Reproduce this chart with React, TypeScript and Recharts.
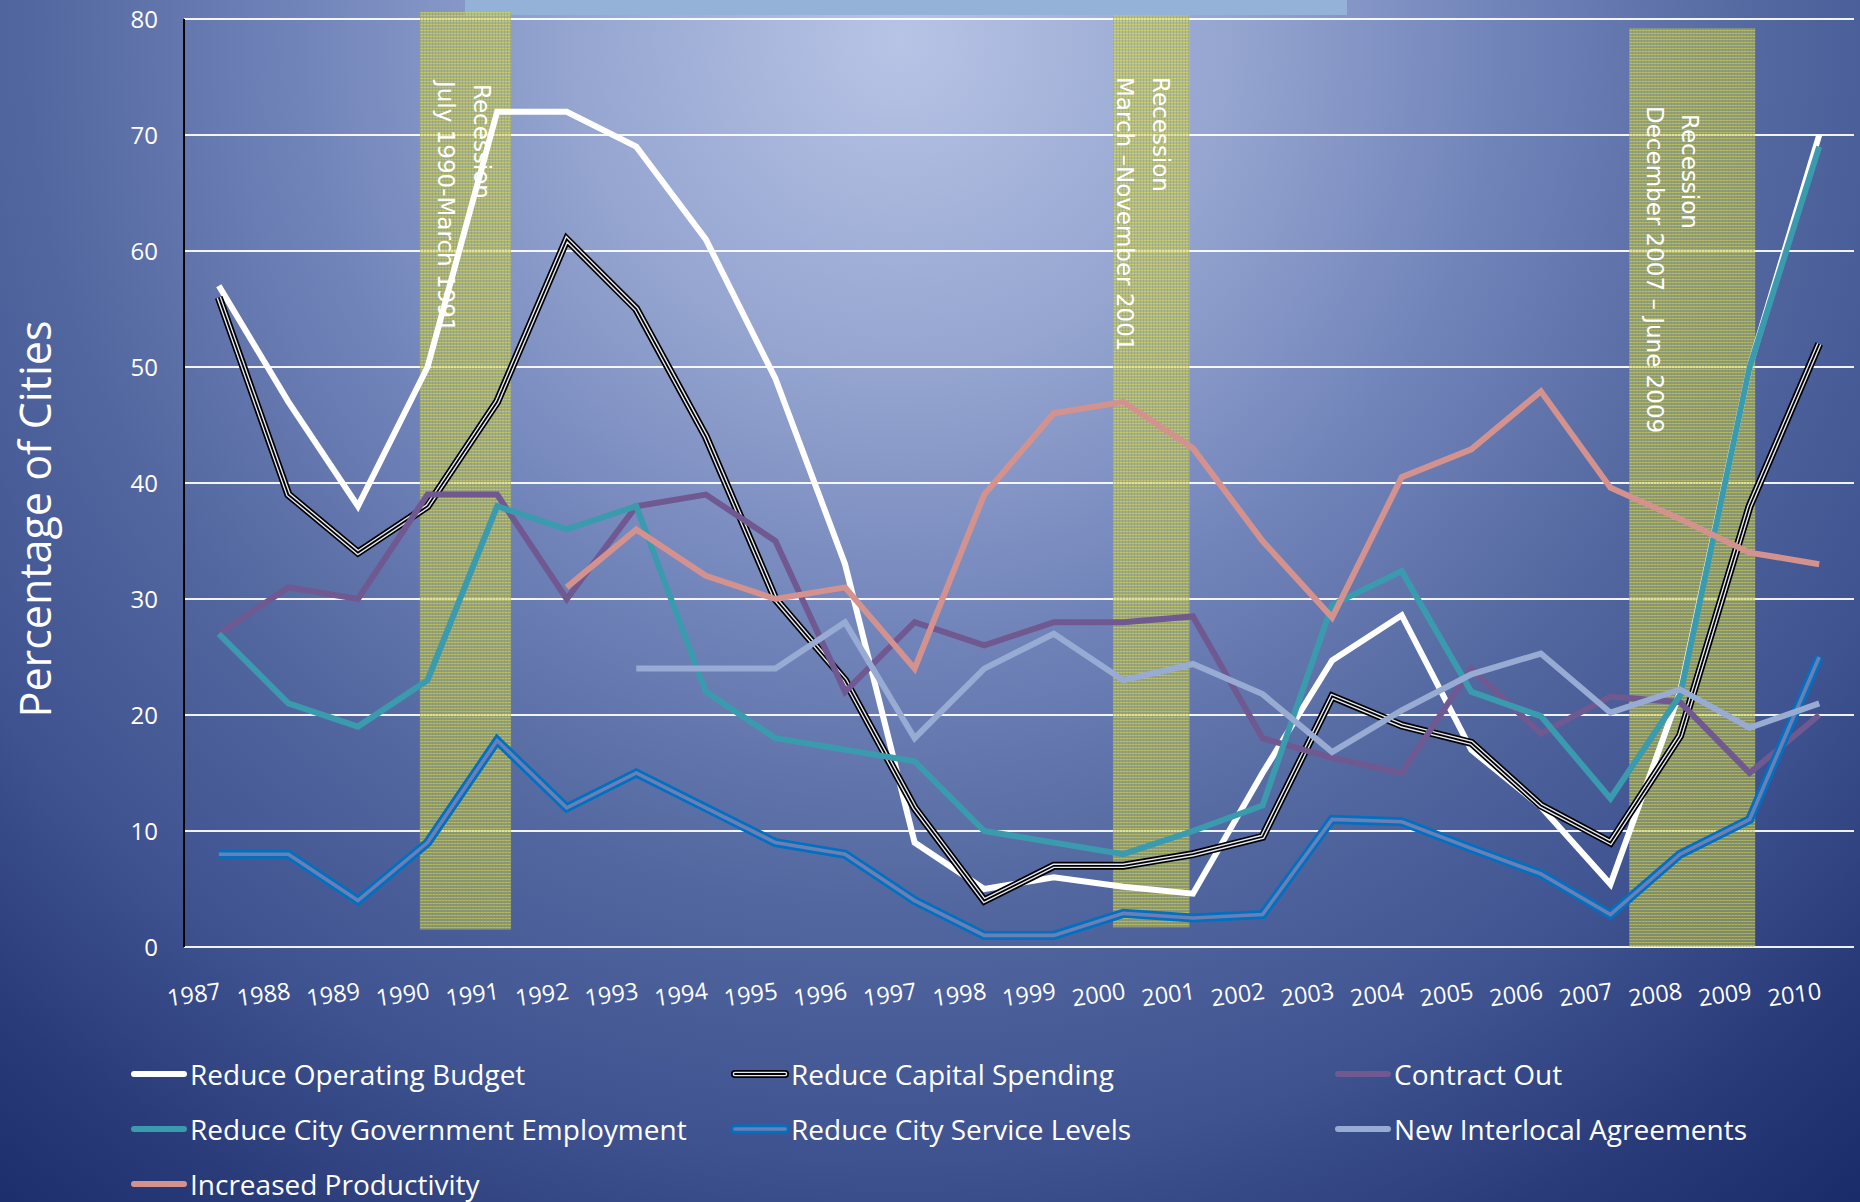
import React from 'react';
import { LineChart, Line, XAxis, YAxis, CartesianGrid, ReferenceArea } from 'recharts';

// survey years on the x axis
const years = [
  1987, 1988, 1989, 1990, 1991, 1992, 1993, 1994, 1995, 1996, 1997, 1998,
  1999, 2000, 2001, 2002, 2003, 2004, 2005, 2006, 2007, 2008, 2009, 2010,
];

const yTicks = [0, 10, 20, 30, 40, 50, 60, 70, 80];

// percentage of cities taking each action, one value per year
const operatingBudget = [57, 47, 38, 50, 72, 72, 69, 61, 49, 33, 9, 5, 6, 5.2, 4.6, 15, 24.7, 28.6, 17, 12.1, 5.4, 22, 50, 70];
const capitalSpending = [56, 39, 34, 38, 47, 61, 55, 44, 30, 23, 12, 4, 7, 7, 8, 9.5, 21.6, 19.1, 17.6, 12.2, 9, 18.2, 38, 52];
const contractOut = [27, 31, 30, 39, 39, 30, 38, 39, 35, 22, 28, 26, 28, 28, 28.5, 18, 16.3, 15, 24, 18.4, 21.6, 21.1, 15, 20];
const govEmployment = [27, 21, 19, 23, 38, 36, 38, 22, 18, 17, 16, 10, 9, 8, 10, 12.2, 29.5, 32.4, 22, 19.9, 12.8, 21.7, 50, 69];
const serviceLevels = [8, 8, 4, 9, 17.8, 12, 15, 12, 9, 8, 4, 1, 1, 2.9, 2.5, 2.8, 11, 10.8, 8.5, 6.3, 2.8, 8, 11, 25];
const interlocal = [null, null, null, null, null, null, 24, 24, 24, 28, 18, 24, 27, 23, 24.4, 21.8, 16.8, 20.4, 23.5, 25.3, 20.2, 22.2, 18.9, 21];
const productivity = [null, null, null, null, null, 31, 36, 32, 30, 31, 24, 39, 46, 47, 43, 35, 28.4, 40.5, 42.9, 47.9, 39.6, 36.9, 34, 33];

// recession periods (fractional years along the axis)
const recessions = [
  { from: 1989.89, to: 1991.2, title: 'Recession', period: 'July 1990-March 1991' },
  { from: 1999.85, to: 2000.95, title: 'Recession', period: 'March \u2013November 2001' },
  { from: 2007.27, to: 2009.08, title: 'Recession', period: 'December 2007 \u2013 June 2009' },
];

const data = years.map((year, i) => ({
  year,
  operating: operatingBudget[i],
  capital: capitalSpending[i],
  contract: contractOut[i],
  employment: govEmployment[i],
  service: serviceLevels[i],
  interlocal: interlocal[i],
  productivity: productivity[i],
}));

// stroke layers per series; stacked strokes give the compound line look
const series = [
  { key: 'operating', name: 'Reduce Operating Budget', layers: [{ stroke: '#ffffff', w: 6 }] },
  {
    key: 'capital',
    name: 'Reduce Capital Spending',
    layers: [
      { stroke: '#000000', w: 8 },
      { stroke: '#e6e9f3', w: 4.6 },
      { stroke: '#000000', w: 1.8 },
    ],
  },
  { key: 'contract', name: 'Contract Out', layers: [{ stroke: '#705890', w: 6 }] },
  { key: 'employment', name: 'Reduce City Government Employment', layers: [{ stroke: '#3a9bae', w: 6 }] },
  {
    key: 'service',
    name: 'Reduce City Service Levels',
    layers: [
      { stroke: '#0070c0', w: 9 },
      { stroke: '#6a7fb6', w: 3.6 },
    ],
  },
  { key: 'interlocal', name: 'New Interlocal Agreements', layers: [{ stroke: '#98abd3', w: 6 }] },
  { key: 'productivity', name: 'Increased Productivity', layers: [{ stroke: '#d4928f', w: 6 }] },
];

const W = 1860;
const H = 1202;
const FONT = '"Open Sans", "Noto Sans", sans-serif';

// vertical extent and text placement of each shaded recession band
const bandSpans = [
  { y1: 1.5, y2: 80.6, titleDx: 62, periodDx: 26, titleTop: 84, periodTop: 81 },
  { y1: 1.7, y2: 80.3, titleDx: 48, periodDx: 12, titleTop: 77, periodTop: 77 },
  { y1: 0, y2: 79.2, titleDx: 61, periodDx: 26, titleTop: 114, periodTop: 106 },
];

function BandShape(props: any) {
  const { x, y, width, height, idx } = props;
  const band = recessions[idx];
  const pos = bandSpans[idx];
  const pid = `recession-dots-${idx}`;
  const tx = x + pos.titleDx;
  const px = x + pos.periodDx;
  return (
    <g>
      <defs>
        <pattern id={pid} width="3" height="3" patternUnits="userSpaceOnUse">
          <rect width="3" height="3" fill="#c8cc48" fillOpacity="0.5" />
          <rect width="3" height="1" fill="#f0f040" fillOpacity="0.4" />
          <rect width="1" height="3" fill="#8a8e70" fillOpacity="0.35" />
        </pattern>
      </defs>
      <rect x={x} y={y} width={width} height={height} fill={`url(#${pid})`} />
      <text
        x={tx}
        y={pos.titleTop}
        transform={`rotate(90 ${tx} ${pos.titleTop})`}
        fill="#ffffff"
        fontSize={23}
        fontFamily='"DejaVu Sans", sans-serif'
        dominantBaseline="central"
      >
        {band.title}
      </text>
      <text
        x={px}
        y={pos.periodTop}
        transform={`rotate(90 ${px} ${pos.periodTop})`}
        fill="#ffffff"
        fontSize={23}
        fontFamily='"DejaVu Sans", sans-serif'
        dominantBaseline="central"
      >
        {band.period}
      </text>
    </g>
  );
}

function XTick(props: any) {
  const { x, y, payload } = props;
  const tx = x + 3;
  const ty = y + 52;
  return (
    <text
      x={tx}
      y={ty}
      transform={`rotate(-8 ${tx} ${ty})`}
      textAnchor="end"
      fill="#ffffff"
      fontSize={23.5}
      fontFamily={FONT}
    >
      {payload.value}
    </text>
  );
}

function YTitle() {
  return (
    <text
      x={34}
      y={519}
      transform="rotate(-90 34 519)"
      textAnchor="middle"
      dominantBaseline="central"
      fill="#ffffff"
      fontSize={43}
      fontFamily={FONT}
    >
      Percentage of Cities
    </text>
  );
}

function LegendIcon({ layers }: { layers: { stroke: string; w: number }[] }) {
  return (
    <svg width={62} height={16} style={{ display: 'block', flex: 'none' }}>
      {layers.map((l, i) => (
        <line key={i} x1={6} y1={8} x2={56} y2={8} stroke={l.stroke} strokeWidth={l.w} strokeLinecap="round" />
      ))}
    </svg>
  );
}

function ChartLegend() {
  return (
    <div
      style={{
        position: 'absolute',
        left: 128,
        top: 1046,
        display: 'grid',
        gridTemplateColumns: '601px 603px 460px',
        gridAutoRows: '55px',
        color: '#ffffff',
        fontFamily: FONT,
        fontSize: 28,
      }}
    >
      {series.map((s) => (
        <div key={s.key} style={{ display: 'flex', alignItems: 'center', whiteSpace: 'nowrap' }}>
          <LegendIcon layers={s.layers} />
          <span style={{ marginLeft: 0 }}>{s.name}</span>
        </div>
      ))}
    </div>
  );
}

export default function App() {
  return (
    <div
      style={{
        position: 'absolute',
        left: 0,
        top: 0,
        width: W,
        height: H,
        overflow: 'hidden',
        background:
          'radial-gradient(circle 1500px at 900px 40px, #b8c4e6 0%, #95a5d0 22%, #7184ba 40%, #52679f 58%, #3e5290 75%, #2a3b79 88%, #1b2c6a 100%)',
      }}
    >
      <div style={{ position: 'absolute', left: 465, top: 0, width: 882, height: 15, background: '#94b1d7' }} />
      <LineChart width={W} height={H} data={data} margin={{ top: 19, right: 6, left: 84, bottom: 225 }}>
        <CartesianGrid vertical={false} stroke="#ffffff" strokeWidth={2} strokeOpacity={0.92} />
        <XAxis
          dataKey="year"
          type="number"
          domain={[1986.5, 2010.5]}
          ticks={years}
          interval={0}
          axisLine={false}
          tickLine={false}
          tickSize={0}
          tickMargin={0}
          height={30}
          tick={<XTick />}
        />
        <YAxis
          domain={[0, 80]}
          ticks={yTicks}
          width={100}
          interval={0}
          axisLine={{ stroke: '#000000', strokeWidth: 2 }}
          tickLine={false}
          tickSize={0}
          tickMargin={26}
          tick={{ fill: '#ffffff', fontSize: 24, fontFamily: FONT }}
          label={<YTitle />}
        />
        {recessions.map((r, i) => (
          <ReferenceArea
            key={r.period}
            x1={r.from}
            x2={r.to}
            y1={bandSpans[i].y1}
            y2={bandSpans[i].y2}
            ifOverflow="visible"
            shape={(p: any) => <BandShape {...p} idx={i} />}
          />
        ))}
        {series.flatMap((s) =>
          s.layers.map((l, j) => (
            <Line
              key={`${s.key}-${j}`}
              type="linear"
              dataKey={s.key}
              name={s.name}
              stroke={l.stroke}
              strokeWidth={l.w}
              dot={false}
              activeDot={false}
              isAnimationActive={false}
              legendType="none"
            />
          ))
        )}
      </LineChart>
      <ChartLegend />
    </div>
  );
}
